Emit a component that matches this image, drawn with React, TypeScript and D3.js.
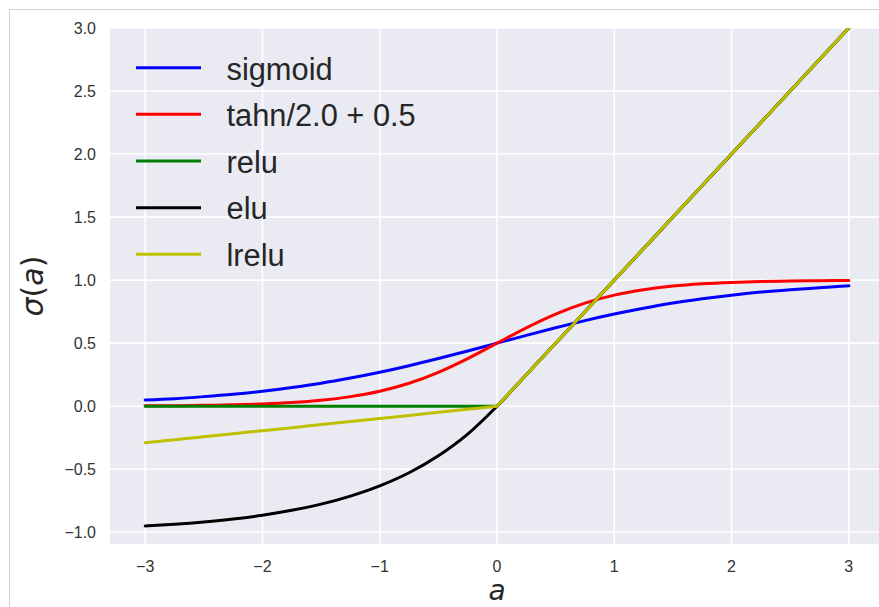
import React from "react";
import * as d3 from "d3";

const xs = [-3, -2.75, -2.5, -2.25, -2, -1.75, -1.5, -1.25, -1, -0.75, -0.5, -0.25, 0, 0.25, 0.5, 0.75, 1, 1.25, 1.5, 1.75, 2, 2.25, 2.5, 2.75, 3];
const sigmoid = [0.05, 0.06, 0.076, 0.095, 0.119, 0.148, 0.182, 0.223, 0.269, 0.321, 0.378, 0.438, 0.5, 0.562, 0.622, 0.679, 0.731, 0.777, 0.818, 0.852, 0.881, 0.905, 0.924, 0.94, 0.955];
const tanhHalf = [0.003, 0.004, 0.007, 0.011, 0.018, 0.029, 0.047, 0.076, 0.119, 0.182, 0.269, 0.378, 0.5, 0.622, 0.731, 0.818, 0.881, 0.924, 0.953, 0.971, 0.982, 0.989, 0.993, 0.996, 0.998];
const relu = [0, 0, 0, 0, 0, 0, 0, 0, 0, 0, 0, 0, 0, 0.25, 0.5, 0.75, 1, 1.25, 1.5, 1.75, 2, 2.25, 2.5, 2.75, 3];
const elu = [-0.95, -0.936, -0.918, -0.895, -0.865, -0.826, -0.777, -0.713, -0.632, -0.528, -0.393, -0.221, 0, 0.25, 0.5, 0.75, 1, 1.25, 1.5, 1.75, 2, 2.25, 2.5, 2.75, 3];
const lrelu = [-0.29, -0.266, -0.242, -0.218, -0.194, -0.17, -0.145, -0.121, -0.097, -0.073, -0.048, -0.024, 0, 0.25, 0.5, 0.75, 1, 1.25, 1.5, 1.75, 2, 2.25, 2.5, 2.75, 3];

const seriesNames = ["sigmoid", "tahn/2.0 + 0.5", "relu", "elu", "lrelu"];
const seriesValues = [sigmoid, tanhHalf, relu, elu, lrelu];
const seriesColors = ["#0000ff", "#ff0000", "#008000", "#000000", "#bfbf00"];
const seriesSmooth = [true, true, false, true, false];

const xTicks = [-3, -2, -1, 0, 1, 2, 3];
const yTicks = [-1.0, -0.5, 0.0, 0.5, 1.0, 1.5, 2.0, 2.5, 3.0];

const W = 879;
const H = 607;
const plot = { left: 110, top: 28, right: 884, bottom: 544 };

export default function App() {
  const x = d3.scaleLinear().domain([-3.3, 3.3]).range([plot.left, plot.right]);
  const y = d3.scaleLinear().domain([-1.093, 3.0]).range([plot.bottom, plot.top]);

  const fmtMinus = (s: string) => s.replace("-", "\u2212");

  return (
    <svg width={W} height={H} style={{ position: "absolute", left: 0, top: 0 }} xmlns="http://www.w3.org/2000/svg">
      <rect x={0} y={0} width={W} height={H} fill="#ffffff" />
      <rect x={9.5} y={9.5} width={W + 20} height={H + 20} fill="none" stroke="#d0d0d0" strokeWidth={1} />
      <defs>
        <clipPath id="plotclip">
          <rect x={plot.left} y={plot.top} width={plot.right - plot.left} height={plot.bottom - plot.top} />
        </clipPath>
      </defs>
      <rect x={plot.left} y={plot.top} width={plot.right - plot.left} height={plot.bottom - plot.top} fill="#EAEAF2" />
      <g clipPath="url(#plotclip)">
        {xTicks.map((t) => (
          <line key={"gx" + t} x1={x(t)} x2={x(t)} y1={plot.top} y2={plot.bottom} stroke="#ffffff" strokeWidth={1.6} />
        ))}
        {yTicks.map((t) => (
          <line key={"gy" + t} x1={plot.left} x2={plot.right} y1={y(t)} y2={y(t)} stroke="#ffffff" strokeWidth={1.6} />
        ))}
        {seriesValues.map((vals, i) => {
          const gen = d3
            .line<number>()
            .x((_, j) => x(xs[j]))
            .y((v) => y(v))
            .curve(seriesSmooth[i] ? d3.curveMonotoneX : d3.curveLinear);
          return (
            <path key={"s" + i} d={gen(vals) || ""} fill="none" stroke={seriesColors[i]} strokeWidth={3} strokeLinejoin="round" strokeLinecap="round" />
          );
        })}
      </g>
      {xTicks.map((t) => (
        <text key={"tx" + t} x={x(t)} y={571.5} textAnchor="middle" fontFamily="Liberation Sans, Arial, sans-serif" fontSize={16} fill="#333333">
          {fmtMinus(String(t))}
        </text>
      ))}
      {yTicks.map((t) => (
        <text key={"ty" + t} x={96} y={y(t)} dy="0.36em" textAnchor="end" fontFamily="Liberation Sans, Arial, sans-serif" fontSize={16} fill="#333333">
          {fmtMinus(t.toFixed(1))}
        </text>
      ))}
      <text x={497} y={600} textAnchor="middle" fontFamily="DejaVu Sans, sans-serif" fontStyle="italic" fontSize={28} fill="#262626">
        a
      </text>
      <text transform={`translate(43, ${(plot.top + plot.bottom) / 2}) rotate(-90)`} textAnchor="middle" fontFamily="DejaVu Sans, sans-serif" fontSize={30} fill="#262626">
        <tspan fontStyle="italic">σ</tspan>
        <tspan>(</tspan>
        <tspan fontStyle="italic">a</tspan>
        <tspan>)</tspan>
      </text>
      {seriesNames.map((name, i) => {
        const ly = 67.7 + i * 46.65;
        return (
          <g key={"lg" + i}>
            <line x1={136} x2={201} y1={ly} y2={ly} stroke={seriesColors[i]} strokeWidth={3} />
            <text x={226.5} y={ly + 11.8} fontFamily="Liberation Sans, Arial, sans-serif" fontSize={30.8} fill="#262626">
              {name}
            </text>
          </g>
        );
      })}
    </svg>
  );
}
